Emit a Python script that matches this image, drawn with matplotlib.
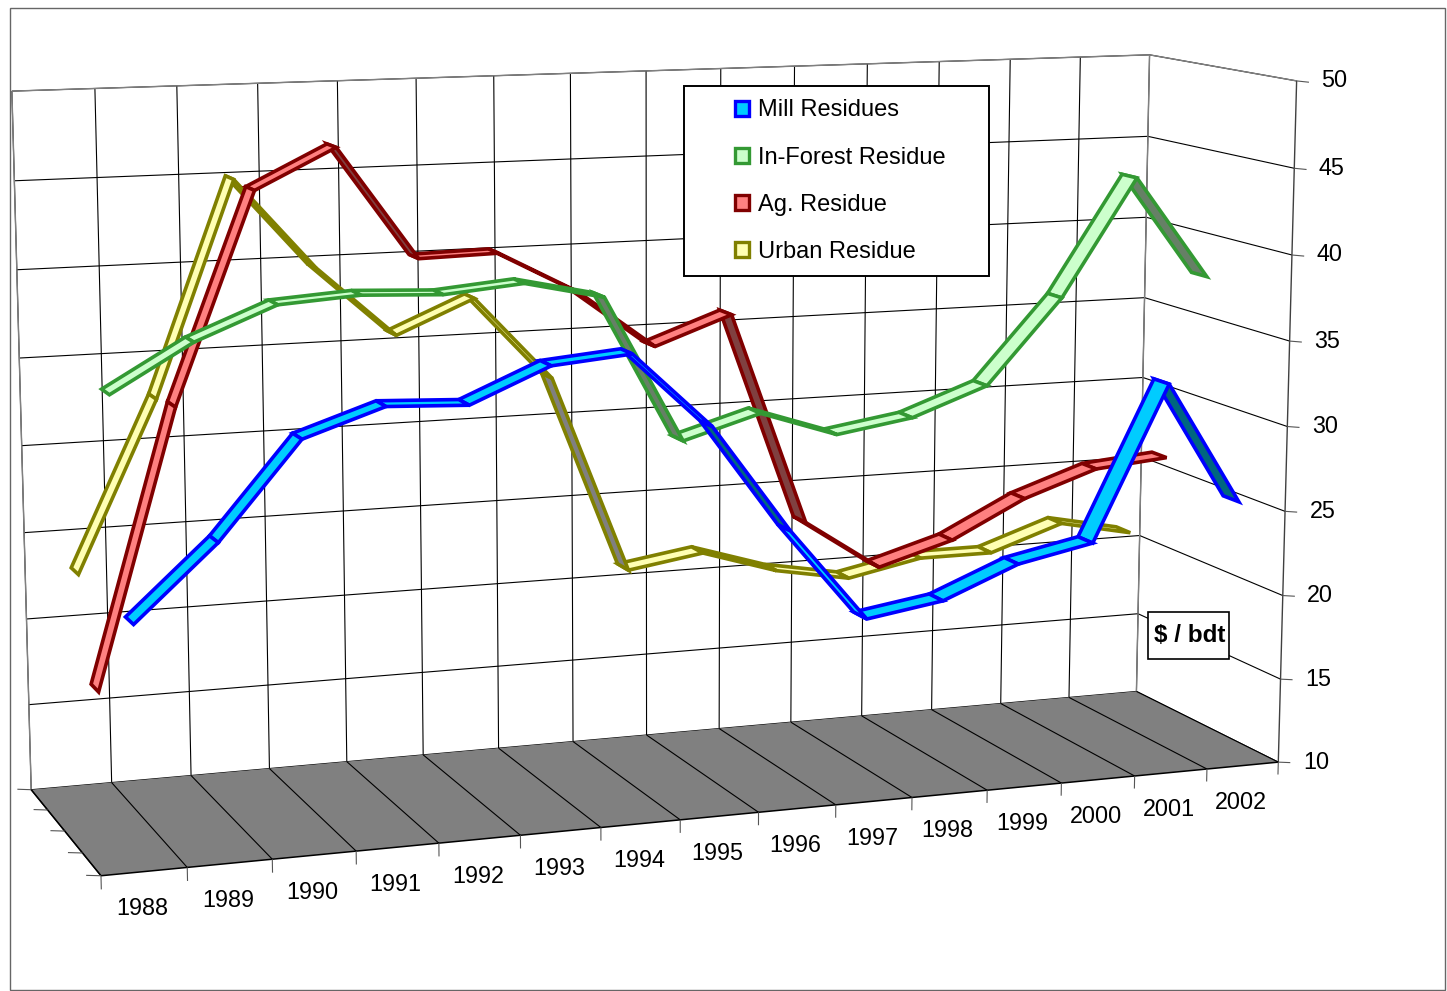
import matplotlib
matplotlib.use("Agg")
import matplotlib.pyplot as plt
from matplotlib.patches import Patch, Rectangle
from mpl_toolkits.mplot3d import proj3d
from mpl_toolkits.mplot3d.art3d import Poly3DCollection

W, H = 1447, 991

years = list(range(1988, 2003))
value_ticks = [10, 15, 20, 25, 30, 35, 40, 45, 50]

# $ per bone dry ton
mill = [23.2, 27.3, 32.6, 34.1, 33.9, 35.8, 36.2, 31.9, 25.7, 20.3, 21.0, 22.8, 23.7, 32.7, 25.5]
forest = [34.8, 37.4, 39.2, 39.5, 39.3, 39.7, 38.7, 30.3, 31.6, 30.1, 30.8, 32.4, 37.3, 44.1, 38.1]
ag = [17.4, 33.1, 44.9, 47.1, 40.7, 40.8, 38.4, 35.0, 36.6, 24.1, 21.1, 22.4, 24.6, 26.1, 26.5]
urban = [23.1, 32.8, 45.0, 39.8, 35.7, 37.6, 32.7, 21.0, 21.7, 20.3, 19.5, 20.4, 20.4, 21.9, 21.0]

names = ["Mill Residues", "In-Forest Residue", "Ag. Residue", "Urban Residue"]
edges = ["#0000FF", "#339933", "#800000", "#808000"]
lights = ["#00CCFF", "#CCFFCC", "#FF8080", "#FFFFB3"]
darks = ["#006680", "#668066", "#804040", "#808080"]

RIBBON = 0.21
FLIP_DROP = -5.5  # ribbon shows its underside when falling faster than this per year

plt.rcParams["font.family"] = ["Liberation Sans", "DejaVu Sans"]

fig = plt.figure(figsize=(W / 100, H / 100), dpi=100)
L, cx, cy = 1408.1, 643.7, 455.0
ax = fig.add_axes([(cx - L / 2) / W, (H - cy - L / 2) / H, L / W, L / H], projection="3d")
ax.set_axis_off()
ax.computed_zorder = False
ax.view_init(elev=10.1004, azim=-109.8523, roll=0.0008)
ax.set_proj_type("persp", focal_length=0.5429)
ax.set_box_aspect((1.752, 0.467, 1))

n_x = len(years)
n_y = len(names)
z0, z1 = value_ticks[0], value_ticks[-1]

ax.set_xlim(0, n_x)
ax.set_ylim(0, n_y)
ax.set_zlim(z0, z1)
ax.apply_aspect()


def line(xs, ys, zs, color="black", lw=0.8, zorder=1):
    ax.plot(xs, ys, zs, color=color, lw=lw, zorder=zorder, clip_on=False, solid_capstyle="butt")


def label(x, y, z, text, dx=0, dy=0, **kw):
    # place a flat text at a 3D point, shifted by some pixels
    xs, ys, _ = proj3d.proj_transform(x, y, z, ax.get_proj())
    px, py = ax.transData.transform((xs, ys))
    fig.text((px + dx) / W, (py + dy) / H, text, **kw)


# back and side wall grid
for v in value_ticks:
    line([0, n_x], [n_y, n_y], [v, v])
    line([n_x, n_x], [n_y, 0], [v, v])
for i in range(n_x + 1):
    line([i, i], [n_y, n_y], [z0, z1])
line([0, 0], [n_y, n_y], [z0, z1], color="#808080", lw=1)
line([0, n_x], [n_y, n_y], [z1, z1], color="#808080", lw=1)
line([n_x, n_x], [n_y, n_y], [z0, z1], color="#808080", lw=1)
line([n_x, n_x], [n_y, 0], [z1, z1], color="#808080", lw=1)
line([n_x, n_x], [0, 0], [z0, z1], color="#404040", lw=1)

# floor
floor = Poly3DCollection([[(0, 0, z0), (n_x, 0, z0), (n_x, n_y, z0), (0, n_y, z0)]],
                         facecolors="#808080", edgecolors="none", zorder=2)
ax.add_collection3d(floor, autolim=False)
for i in range(n_x + 1):
    line([i, i], [0, n_y], [z0, z0], zorder=3)
line([0, n_x], [0, 0], [z0, z0], lw=1.1, zorder=3)
line([0, 0], [0, n_y], [z0, z0], lw=1.1, zorder=3)

# tick marks
for i in range(n_x + 1):
    line([i, i], [0, 0], [z0, z0 - 0.75], color="#555555", zorder=3)
for j in range(n_y + 1):
    line([0, -0.17], [j, j], [z0, z0 + 0.1], color="#555555", zorder=3)
for v in value_ticks:
    line([n_x, n_x + 0.17], [0, 0], [v, v - 0.1], color="#555555", zorder=3)

# tick labels
for i, year in enumerate(years):
    label(i + 0.5, 0, z0, str(year), dx=-2, dy=-37, ha="center", va="center", fontsize=16.8)
for v in value_ticks:
    label(n_x, 0, v, str(v), dx=24.5, dy=0, ha="left", va="center", fontsize=16.8)

# ribbons, back series first and right to left inside each series
all_series = [mill, forest, ag, urban]
z = 10
for j in reversed(range(n_y)):
    vals = all_series[j]
    d = j + 0.5
    for i in reversed(range(n_x - 1)):
        a, b = vals[i], vals[i + 1]
        quad = [(i + 0.5, d - RIBBON, a), (i + 1.5, d - RIBBON, b),
                (i + 1.5, d + RIBBON, b), (i + 0.5, d + RIBBON, a)]
        face = darks[j] if b - a < FLIP_DROP else lights[j]
        poly = Poly3DCollection([quad], facecolors=face, edgecolors=edges[j], linewidths=2.6,
                                joinstyle="miter", zorder=z)
        ax.add_collection3d(poly, autolim=False)
        z += 1

# outer frame, legend box and axis unit box
fig.add_artist(Rectangle((10 / W, 1 - 990 / H), 1435 / W, 982 / H, transform=fig.transFigure,
                         fill=False, ec="#666666", lw=1, zorder=3))
fig.add_artist(Rectangle((684 / W, 1 - 276 / H), 305 / W, 190 / H, transform=fig.transFigure,
                         fc="white", ec="black", lw=1.4, zorder=4))
handles = [Patch(facecolor=lights[k], edgecolor=edges[k], linewidth=2.4) for k in range(n_y)]
fig.legend(handles, names, loc="upper left", bbox_to_anchor=(735 / W, 1 - 99.5 / H), frameon=False,
           fontsize=17, borderpad=0, borderaxespad=0, handlelength=0.6, handleheight=0.6,
           handletextpad=0.36, labelspacing=1.06)

fig.add_artist(Rectangle((1148 / W, 1 - 659 / H), 81 / W, 47 / H, transform=fig.transFigure,
                         fc="white", ec="black", lw=1.2, zorder=4))
fig.text(1190 / W, 1 - 636 / H, "$ / bdt", ha="center", va="center", fontsize=17.5, fontweight="bold", zorder=5)

fig.savefig("out.png", dpi=100)
